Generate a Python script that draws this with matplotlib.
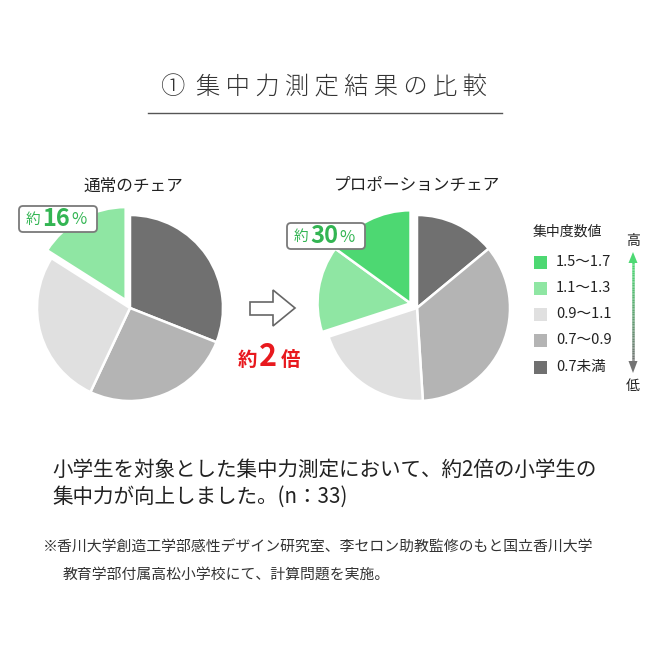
import numpy as np
import matplotlib.pyplot as plt
from matplotlib.patches import FancyBboxPatch, Polygon
from matplotlib.collections import LineCollection

plt.rcParams['font.family'] = ['Noto Sans CJK JP', 'DejaVu Sans']

# 凡例 (上から高い順)
legend_title = "集中度数値"
ranges = ["1.5〜1.7", "1.1〜1.3", "0.9〜1.1", "0.7〜0.9", "0.7未満"]
colors = ["#4dd872", "#8fe6a3", "#e0e0e0", "#b4b4b4", "#707070"]

# 円グラフは12時から時計回り: 0.7未満, 0.7〜0.9, 0.9〜1.1, 1.1〜1.3, 1.5〜1.7
normal_vals = [31, 26, 27, 16]
proportion_vals = [14, 35, 21, 15, 15]
normal_label = "16"
proportion_label = "30"

title = "①  集 中 力 測 定 結 果 の 比 較"
sub_left = "通常のチェア"
sub_right = "プロポーションチェア"
body = ["小学生を対象とした集中力測定において、約2倍の小学生の",
        "集中力が向上しました。(n：33)"]
note = ["※香川大学創造工学部感性デザイン研究室、李セロン助教監修のもと国立香川大学",
        "教育学部付属高松小学校にて、計算問題を実施。"]

W = 650


def Y(y):
    # 画像の上からのピクセル -> データ座標
    return W - y


fig = plt.figure(figsize=(6.5, 6.5), dpi=100)
ax = fig.add_axes([0, 0, 1, 1])

pie_colors = colors[::-1]


def draw_pie(vals, cx, cy, n_green, shift):
    wedges, _ = ax.pie(vals, colors=pie_colors[:len(vals)], center=(cx, Y(cy)),
                       radius=93, startangle=90, counterclock=False,
                       wedgeprops=dict(edgecolor="white", linewidth=1.8))
    # 緑の部分をまとめて外側へずらす
    frac = sum(vals[-n_green:]) / sum(vals)
    ang = np.deg2rad(90 + frac * 180)
    dx, dy = shift * np.cos(ang), shift * np.sin(ang)
    for w in wedges[-n_green:]:
        w.set_center((cx + dx, Y(cy) + dy))
    return wedges


draw_pie(normal_vals, 130, 308, 1, 9)
draw_pie(proportion_vals, 417, 308, 2, 8)

ax.set_xlim(0, W)
ax.set_ylim(0, W)
ax.axis("off")

# タイトル
ax.text(324, Y(88), title, ha="center", va="center", fontsize=17.5,
        fontweight="light", color="#333333")
ax.plot([148, 502], [Y(113), Y(113)], color="#555555", lw=1)

ax.text(133, Y(186), sub_left, ha="center", va="center", fontsize=12, color="#222222")
ax.text(417, Y(185), sub_right, ha="center", va="center", fontsize=12, color="#222222")


def pct_box(x0, y0, num):
    box = FancyBboxPatch((x0, Y(y0 + 26)), 78, 26,
                         boxstyle="round,pad=0,rounding_size=4",
                         fc="white", ec="#7a7a7a", lw=1.3, zorder=5)
    ax.add_patch(box)
    yc = Y(y0 + 13)
    ax.text(x0 + 7, yc - 1, "約", ha="left", va="center", fontsize=10.5,
            color="#33b553", zorder=6)
    ax.text(x0 + 23, yc, num, ha="left", va="center", fontsize=17,
            fontweight="bold", color="#33b553", zorder=6)
    ax.text(x0 + 52, yc - 1, "%", ha="left", va="center", fontsize=12,
            color="#33b553", zorder=6)


pct_box(19, 206, normal_label)
pct_box(287, 223, proportion_label)

# 矢印
arrow = Polygon([(250, Y(302)), (273, Y(302)), (273, Y(290)), (295, Y(308)),
                 (273, Y(326)), (273, Y(315)), (250, Y(315))],
                closed=True, fc="white", ec="#666666", lw=1.2)
ax.add_patch(arrow)

ax.text(238, Y(360), "約", ha="left", va="center", fontsize=14, fontweight="bold",
        color="#e8191e")
ax.text(259, Y(357), "2", ha="left", va="center", fontsize=22, fontweight="bold",
        color="#e8191e")
ax.text(281, Y(360), "倍", ha="left", va="center", fontsize=14, fontweight="bold",
        color="#e8191e")

# 凡例
ax.text(533, Y(232), legend_title, ha="left", va="center", fontsize=10, color="#222222")
rows = [262, 288, 314, 340, 367]
for r, lab, c in zip(rows, ranges, colors):
    ax.add_patch(plt.Rectangle((534, Y(r + 6.5)), 13, 13, fc=c, ec="none"))
    ax.text(556, Y(r), lab, ha="left", va="center", fontsize=10.5, color="#222222")

# 高低の矢印 (グラデーション)
ys = np.linspace(Y(262), Y(362), 60)
segs = [[(633, ys[i]), (633, ys[i + 1])] for i in range(len(ys) - 1)]
top_c = np.array([0.30, 0.85, 0.45])
bot_c = np.array([0.45, 0.45, 0.45])
seg_c = [top_c + (bot_c - top_c) * i / (len(segs) - 1) for i in range(len(segs))]
ax.add_collection(LineCollection(segs, colors=seg_c, linewidths=1.8))
ax.add_patch(Polygon([(628.5, Y(263)), (637.5, Y(263)), (633, Y(252))], fc=top_c, ec="none"))
ax.add_patch(Polygon([(628.5, Y(361)), (637.5, Y(361)), (633, Y(373))], fc=bot_c, ec="none"))
ax.text(633, Y(241), "高", ha="center", va="center", fontsize=10, color="#222222")
ax.text(633, Y(386), "低", ha="center", va="center", fontsize=10, color="#222222")

# 本文
ax.text(52, Y(470), body[0], ha="left", va="center", fontsize=14.8, color="#222222")
ax.text(52, Y(497), body[1], ha="left", va="center", fontsize=14.8, color="#222222")
ax.text(43, Y(548), note[0], ha="left", va="center", fontsize=10.7, color="#333333")
ax.text(63, Y(575), note[1], ha="left", va="center", fontsize=10.7, color="#333333")

fig.savefig("out.png", dpi=100, facecolor="white")
